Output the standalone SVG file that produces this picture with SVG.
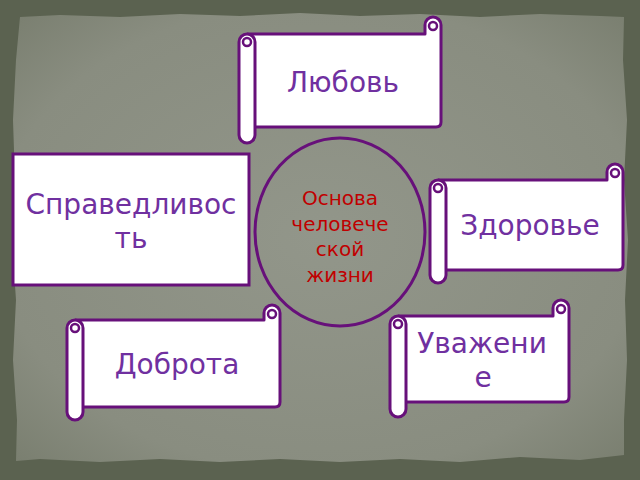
<svg xmlns="http://www.w3.org/2000/svg" width="640" height="480" viewBox="0 0 640 480">
<defs>
<radialGradient id="paper" cx="50%" cy="50%" r="70%">
<stop offset="0" stop-color="#92968a"/>
<stop offset="0.75" stop-color="#898d80"/>
<stop offset="1" stop-color="#7a7f70"/>
</radialGradient>
<style>
.sc{fill:#ffffff;stroke:#67107a;stroke-width:3;stroke-linejoin:round}
.cu{fill:none;stroke:#67107a;stroke-width:2.5}
.lbl{font-family:"DejaVu Sans",Verdana,sans-serif;font-size:28px;fill:#7030a0;text-anchor:middle}
.ctr{font-family:"DejaVu Sans",Verdana,sans-serif;font-size:20px;fill:#c00000;text-anchor:middle}
</style>
</defs>
<rect width="640" height="480" fill="#5b6250"/>
<path d="M20 17 L60 15 L120 17 L180 14 L240 16 L300 13 L360 16 L420 14 L480 17 L540 14 L600 16 L624 17 L623 60 L627 120 L624 180 L628 240 L625 300 L627 360 L624 420 L624 455 L580 460 L520 457 L460 462 L400 459 L340 462 L280 459 L220 462 L160 459 L100 462 L40 459 L16 461 L17 420 L13 360 L16 300 L12 240 L15 180 L13 120 L16 60 Z" fill="url(#paper)"/>
<g id="connectors"></g>
<g id="center">
<ellipse cx="340" cy="232" rx="85" ry="94" fill="none" stroke="#67107a" stroke-width="3"/>
<text class="ctr" x="340" y="205">Основа</text>
<text class="ctr" x="340" y="231">человече</text>
<text class="ctr" x="340" y="256">ской</text>
<text class="ctr" x="340" y="282">жизни</text>
</g>
<g id="lubov">
<path class="sc" d="M247 34 H425 V25 A8 8 0 0 1 441 25 V122 Q441 127 436 127 H255"/>
<circle class="cu" cx="433" cy="26" r="4"/>
<rect class="sc" x="239" y="34" width="16" height="109" rx="8"/>
<circle class="cu" cx="247" cy="42" r="4"/>
<text class="lbl" x="343" y="92">Любовь</text>
</g>
<g id="spravedlivost">
<rect x="13" y="154" width="236" height="131" fill="#ffffff" stroke="#67107a" stroke-width="3"/>
<text class="lbl" x="131" y="214">Справедливос</text>
<text class="lbl" x="131" y="248">ть</text>
</g>
<g id="zdorovie">
<path class="sc" d="M438 180 H607 V172 A8 8 0 0 1 623 172 V265 Q623 270 618 270 H446"/>
<circle class="cu" cx="615" cy="173" r="4"/>
<rect class="sc" x="430" y="180" width="16" height="103" rx="8"/>
<circle class="cu" cx="438" cy="188" r="4"/>
<text class="lbl" x="530" y="235">Здоровье</text>
</g>
<g id="dobrota">
<path class="sc" d="M75 320 H264 V313 A8 8 0 0 1 280 313 V402 Q280 407 275 407 H83"/>
<circle class="cu" cx="272" cy="314" r="4"/>
<rect class="sc" x="67" y="320" width="16" height="100" rx="8"/>
<circle class="cu" cx="75" cy="328" r="4"/>
<text class="lbl" x="177" y="374">Доброта</text>
</g>
<g id="uvazhenie">
<path class="sc" d="M398 316 H553 V308 A8 8 0 0 1 569 308 V397 Q569 402 564 402 H406"/>
<circle class="cu" cx="561" cy="309" r="4"/>
<rect class="sc" x="390" y="316" width="16" height="101" rx="8"/>
<circle class="cu" cx="398" cy="324" r="4"/>
<text class="lbl" x="482" y="353">Уважени</text>
<text class="lbl" x="483" y="387">е</text>
</g>
</svg>
